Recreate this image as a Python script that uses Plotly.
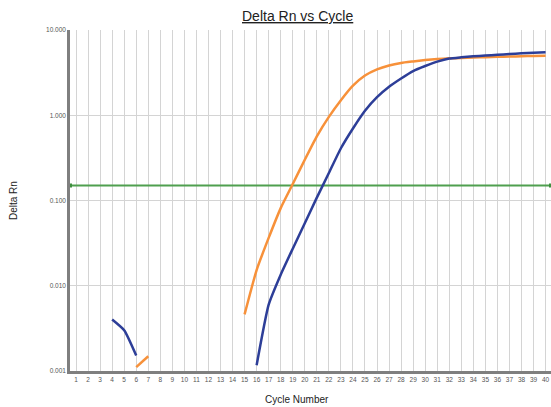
import plotly.graph_objects as go

cycles = list(range(1, 41))

# Blue series (None = no data)
blue_vals = [None, None, None, 0.00402, 0.00301, 0.00152, None, None, None, None,
             None, None, None, None, None, 0.00117, 0.0060, 0.0135, 0.0272, 0.054,
             0.108, 0.21, 0.41, 0.70, 1.13, 1.63, 2.16, 2.70, 3.30, 3.78,
             4.25, 4.62, 4.78, 4.92, 5.02, 5.12, 5.22, 5.32, 5.42, 5.50]

# Orange series
orange_vals = [None, None, None, None, None, 0.00111, 0.00149, None, None, None,
               None, None, None, None, 0.00461, 0.0153, 0.0364, 0.0814, 0.156, 0.301,
               0.566, 0.957, 1.50, 2.22, 2.92, 3.45, 3.84, 4.11, 4.28, 4.44,
               4.56, 4.65, 4.70, 4.75, 4.80, 4.84, 4.88, 4.92, 4.96, 5.00]

threshold = 0.15

y_tick_vals = [0.001, 0.01, 0.1, 1, 10]
y_tick_text = ["0.001", "0.010", "0.100", "1.000", "10.000"]

x_range = [0.5, 40.45]

fig = go.Figure()
fig.add_trace(go.Scatter(x=x_range, y=[threshold, threshold], mode="lines+markers",
                         line=dict(color="#4f9f4f", width=2),
                         marker=dict(symbol="square", size=4, color="#3f8f3f"),
                         showlegend=False, hoverinfo="skip"))
fig.add_trace(go.Scatter(x=cycles, y=orange_vals, mode="lines", connectgaps=False,
                         line=dict(color="#f7913a", width=2.5, shape="spline", smoothing=0.5),
                         showlegend=False))
fig.add_trace(go.Scatter(x=cycles, y=blue_vals, mode="lines", connectgaps=False,
                         line=dict(color="#2d3e98", width=2.5, shape="spline", smoothing=0.5),
                         showlegend=False))

W, H = 551, 407
l, r, t, b = 70, 0, 30, 36
pw, ph = W - l - r, H - t - b


def px_to_paper(px, py):
    return (px - l) / pw, (H - b - py) / ph


ann_specs = [
    ("<u>Delta Rn vs Cycle</u>", 297, 16, 0, 14),
    ("Cycle Number", 297, 399, 0, 10),
    ("Delta Rn", 13, 201, -90, 10),
]
annotations = []
for text, px, py, ang, size in ann_specs:
    xp, yp = px_to_paper(px, py)
    annotations.append(dict(text=text, x=xp, y=yp, xref="paper", yref="paper",
                            xanchor="center", yanchor="middle", showarrow=False,
                            textangle=ang, font=dict(size=size, color="#222222")))

fig.update_layout(
    width=W, height=H,
    margin=dict(l=l, r=r, t=t, b=b),
    paper_bgcolor="white", plot_bgcolor="white",
    font=dict(family="Liberation Sans, Arial, sans-serif", color="#333333"),
    xaxis=dict(range=x_range, tickmode="array", tickvals=cycles,
               ticktext=[str(c) for c in cycles],
               tickfont=dict(size=6.5, color="#555555"),
               showgrid=True, gridcolor="#d4d4d4", gridwidth=1,
               showline=True, linecolor="#7f7f7f", linewidth=2.5,
               ticks="", zeroline=False, fixedrange=True),
    yaxis=dict(type="log", range=[-3, 1], tickmode="array",
               tickvals=y_tick_vals, ticktext=y_tick_text,
               tickfont=dict(size=6.5, color="#555555"),
               showgrid=True, gridcolor="#d4d4d4", gridwidth=1,
               showline=True, linecolor="#7f7f7f", linewidth=2.5,
               ticks="", zeroline=False, fixedrange=True),
    annotations=annotations,
)

fig.write_html("out.html", config={"displayModeBar": False},
               post_script="document.body.style.margin='0';document.body.style.padding='0';")
